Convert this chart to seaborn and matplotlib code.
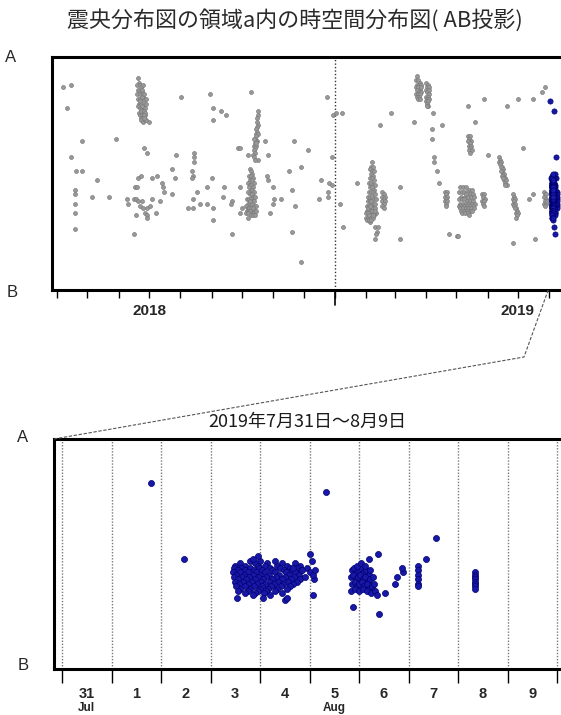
import numpy as np
import pandas as pd
import matplotlib
matplotlib.use("Agg")
import matplotlib.pyplot as plt
import matplotlib.dates as mdates
from matplotlib.lines import Line2D
from matplotlib.ticker import FixedLocator, FixedFormatter, NullFormatter
import seaborn as sns

# ---------------- text ----------------
TITLE = "震央分布図の領域a内の時空間分布図( AB投影)"
SUBTITLE = "2019年7月31日～8月9日"
END_LABELS = ["A", "B"]
YEAR_LABELS = ["2018", "2019"]
DAY_LABELS = ["31", "1", "2", "3", "4", "5", "6", "7", "8", "9"]
MONTH_LABELS = ["Jul", "Aug"]

# ---------------- data ----------------
# gray events: days from 2019-01-01, position along A-B (0 = A, 100 = B)
single_day = [-269, -261, -265, -250, -261, -256, -250, -257, -257, -257,
              -257, -257, -236, -240, -224, -217, -184, -189, -186, -195,
              -192, -198, -196, -199, -197, -206, -205, -195, -191, -193,
              -190, -186, -188, -186, -186, -183, -181, -181, -176, -177,
              -173, -171, -170, -169, -197, -199, -161, -158, -161, -157,
              -152, -140, -140, -140, -142, -141, -142, -137, -141, -145,
              -141, -124, -121, -113, -108, -121, -83, -96, -94, -86,
              -76, -66, -69, -67, -66, -61, -60, -61, -53, -64,
              -86, -94, -92, -94, -102, -103, -110, -111, -122, -127,
              -134, -127, -121, -121, -102, -41, -27, -46, -34, -43,
              -40, -43, -34, -8, -2, 1, -3, -14, -16, -7,
              -7, -6, -3, 5, 8, 7, 22, 45, 55, 35,
              40, 42, 43, 40, 41, 64, 64, 78, 81, 97,
              106, 96, 96, 98, 98, 101, 103, 113, 121, 132,
              147, 139, 151, 122, 170, 181, 196, 205, 208, 186,
              192, 196, 176, 198]
single_pos = [13, 12, 22, 36, 43, 49, 49, 57, 59, 63,
              67, 74, 53, 60, 60, 35, 28, 39, 41, 52,
              51, 56, 56, 61, 61, 61, 63, 62, 62, 64,
              65, 65, 67, 68, 69, 64, 61, 52, 51, 67,
              62, 54, 56, 58, 68, 76, 48, 52, 59, 42,
              17, 41, 43, 45, 49, 51, 52, 58, 61, 65,
              65, 16, 22, 23, 25, 27, 15, 39, 39, 42,
              44, 42, 36, 51, 53, 56, 61, 63, 61, 67,
              69, 67, 65, 56, 62, 63, 56, 60, 52, 56,
              63, 63, 65, 70, 76, 36, 40, 49, 47, 57,
              64, 75, 88, 17, 25, 24, 43, 53, 61, 60,
              58, 54, 55, 63, 73, 24, 54, 29, 24, 71,
              73, 75, 73, 78, 76, 56, 78, 28, 8, 24,
              29, 31, 35, 43, 45, 49, 54, 76, 77, 21,
              18, 28, 42, 77, 21, 18, 18, 15, 13, 39,
              61, 59, 80, 78]

swarm_day = [
    # June 2018 (upper)
    -195, -194, -196, -193, -195, -192, -194, -196, -193, -191,
    -195, -193, -190, -194, -192, -189, -195, -193, -191, -190,
    -194, -192, -188, -193, -191, -189, -192, -190, -188, -193,
    -191, -189, -187, -192, -190, -188, -191, -189, -187, -190,
    -188, -191, -189, -187, -189,
    # Oct 2018 streak
    -76, -76, -77, -77, -76, -77, -78, -77, -78, -76,
    -78, -79, -77, -78, -79, -80, -78, -79, -80, -79,
    -81, -80, -79, -78, -80,
    # Oct 2018 lower
    -84, -83, -82, -85, -83, -81, -84, -82, -80, -86,
    -84, -83, -81, -85, -83, -82, -80, -86, -84, -82,
    -81, -79, -87, -85, -83, -81, -80, -86, -84, -82,
    -80, -78, -88, -86, -85, -83, -81, -79, -87, -85,
    -84, -82, -80, -78, -88, -86, -83, -81, -79, -84,
    # Feb 2019
    37, 36, 38, 35, 37, 39, 36, 38, 35, 37,
    39, 34, 36, 38, 40, 35, 37, 39, 34, 36,
    38, 40, 33, 35, 37, 39, 41, 33, 35, 36,
    38, 40, 32, 34, 36, 38, 40, 32, 34, 35,
    37, 39, 41, 31, 33, 35, 37, 39, 31, 33,
    34, 36, 38, 40, 32, 34, 36, 38, 33, 35,
    47, 48, 47, 49, 48, 47, 49, 48, 47, 48,
    # Mar 2019 upper
    80, 82, 84, 81, 83, 85, 80, 82, 84, 81,
    83, 85, 80, 82, 84, 81, 83, 82, 85, 84,
    90, 92, 91, 93, 90, 92, 91, 93, 90, 92,
    91, 93, 90, 92, 91, 92, 93, 91,
    # Apr 2019
    109, 111, 110, 109, 111, 110, 109, 111, 110, 110,
    # May 2019
    132, 134, 133, 135, 132, 134, 133, 135, 134, 133, 136, 134,
    124, 127, 130, 133, 136, 123, 126, 128, 131, 134,
    137, 125, 129, 132, 135, 138, 123, 126, 128, 131,
    134, 137, 124, 127, 130, 133, 136, 139, 123, 125,
    128, 131, 134, 137, 124, 127, 130, 132, 135, 138,
    125, 128, 131, 134, 136, 126, 129, 132, 133, 130,
    145, 147, 146, 148, 145, 147, 146, 147,
    # June 2019
    162, 163, 162, 164, 163, 165, 164, 166, 165, 164,
    166, 167, 166, 165, 167, 168, 167, 169, 168, 170,
    168, 166,
    176, 177, 176, 178, 177, 176, 178, 177, 179, 178,
    180, 179, 181, 180, 179,
    # July 2019
    207, 208, 209, 207, 209, 208, 207, 209, 208, 210,
]
swarm_pos = [
    9, 11, 12, 12, 14, 13, 15, 16, 16, 15,
    18, 18, 17, 20, 20, 19, 21, 22, 22, 21,
    24, 23, 22, 25, 25, 24, 26, 26, 25, 19,
    17, 23, 20, 27, 28, 27, 14, 16, 18, 12,
    24, 21, 25, 27, 26,
    23, 25, 26, 28, 29, 30, 31, 32, 33, 33,
    34, 35, 36, 36, 37, 38, 38, 39, 40, 41,
    42, 43, 44, 37, 35,
    48, 49, 50, 51, 51, 52, 53, 53, 54, 54,
    55, 55, 56, 56, 57, 57, 58, 58, 59, 59,
    60, 60, 61, 61, 61, 62, 62, 63, 63, 63,
    64, 64, 64, 65, 65, 65, 65, 66, 66, 66,
    66, 67, 67, 66, 67, 67, 68, 68, 68, 62,
    45, 47, 47, 48, 49, 49, 50, 51, 52, 52,
    53, 54, 54, 55, 55, 56, 56, 57, 58, 58,
    58, 59, 60, 60, 60, 61, 61, 62, 62, 62,
    63, 63, 64, 64, 64, 65, 65, 66, 66, 66,
    66, 67, 67, 67, 67, 68, 68, 68, 69, 69,
    68, 69, 69, 66, 70, 70, 70, 68, 65, 64,
    58, 59, 60, 60, 61, 62, 62, 63, 64, 65,
    10, 10, 11, 12, 12, 12, 13, 13, 14, 14,
    15, 15, 16, 16, 16, 17, 17, 18, 13, 18,
    11, 12, 13, 13, 14, 15, 15, 16, 17, 17,
    18, 18, 19, 19, 20, 21, 14, 21,
    58, 58, 59, 60, 60, 61, 62, 62, 63, 64,
    34, 34, 35, 36, 36, 37, 38, 38, 39, 40, 40, 41,
    56, 56, 56, 57, 57, 58, 58, 58, 58, 59,
    59, 60, 60, 60, 60, 60, 61, 61, 61, 62,
    62, 62, 63, 63, 63, 63, 63, 63, 64, 64,
    64, 64, 64, 64, 65, 65, 65, 65, 65, 65,
    66, 66, 66, 66, 66, 67, 67, 67, 68, 59,
    59, 59, 60, 61, 62, 62, 63, 64,
    43, 44, 45, 45, 46, 47, 47, 48, 49, 49,
    50, 50, 51, 51, 52, 52, 53, 53, 54, 55,
    55, 52,
    59, 60, 61, 61, 62, 63, 63, 64, 65, 65,
    66, 67, 67, 68, 69,
    58, 59, 59, 60, 61, 62, 63, 63, 64, 62,
]

# blue events (2019-07-31 .. 08-09): days from 2019-07-31 00:00, position along A-B
blue_t = [
    1.80, 2.46, 5.33, 7.56, 7.35, 5.88, 6.40, 6.53, 6.38, 6.20, 5.07, 6.73, 6.89, 6.77, 6.87,
    7.19, 7.19, 7.19, 7.19, 7.19, 7.19,
    8.34, 8.34, 8.34, 8.34, 8.34, 8.34, 8.34, 8.34,
    5.85, 5.90, 5.95, 6.00, 6.05, 6.10, 6.15, 6.20, 5.83, 5.88,
    5.93, 5.98, 6.03, 6.08, 6.13, 6.18, 6.23, 6.28, 5.86, 5.91,
    5.96, 6.01, 6.06, 6.11, 6.16, 6.21, 6.26, 6.31, 5.84, 5.92,
    6.00, 6.08, 6.16, 6.24, 6.32, 6.36, 5.95, 6.05, 6.12, 6.22,
    3.80, 4.00, 4.30,
    3.60, 3.90, 4.15, 4.45, 4.70,
    3.50, 3.70, 3.95, 4.10, 4.35, 4.55, 4.80,
    3.48, 3.62, 3.80, 3.98, 4.20, 4.40, 4.60, 4.75,
    3.55, 3.70, 3.88, 4.05, 4.25, 4.48, 4.65, 4.82,
    3.46, 3.60, 3.75, 3.92, 4.10, 4.30, 4.52, 4.70,
    3.52, 3.68, 3.85, 4.00, 4.18, 4.38, 4.58, 4.78,
    3.47, 3.63, 3.78, 3.95, 4.12, 4.32, 4.50, 4.68,
    3.55, 3.72, 3.90, 4.06, 4.24, 4.44, 4.62, 4.80,
    3.50, 3.66, 3.83, 4.02, 4.20, 4.36, 4.56, 4.74,
    3.58, 3.75, 3.93, 4.10, 4.28, 4.47, 4.66,
    3.52, 3.70, 3.88, 4.05, 4.22, 4.42, 4.60,
    3.60, 3.80, 4.00, 4.16, 4.35, 4.55,
    3.55, 3.75, 3.96, 4.12, 4.30,
    3.70, 3.90, 4.08, 4.45,
    3.85, 4.20,
    3.53, 4.06, 4.50, 3.96, 3.86, 5.00, 5.05, 4.95, 5.10, 4.55,
    4.67, 4.85, 5.02, 5.08, 4.90, 5.12,
]
blue_pos = [
    19, 52, 23, 43, 52, 73, 76, 67, 50, 52, 68, 63, 58, 60, 56,
    55, 57, 59, 61, 63, 64,
    58, 59, 60, 61, 62, 63, 64, 65,
    57, 56, 58, 57, 56, 58, 57, 59, 60, 59,
    61, 60, 59, 61, 60, 62, 61, 60, 63, 62,
    64, 63, 62, 64, 63, 65, 64, 63, 66, 65,
    66, 65, 66, 67, 66, 68, 55, 54, 55, 57,
    53, 53, 53,
    54, 54, 54, 54, 54,
    55, 55, 55, 55, 55, 55, 55,
    56, 56, 56, 56, 56, 56, 56, 56,
    57, 57, 57, 57, 57, 57, 57, 57,
    58, 58, 58, 58, 58, 58, 58, 58,
    59, 59, 59, 59, 59, 59, 59, 59,
    60, 60, 60, 60, 60, 60, 60, 60,
    61, 61, 61, 61, 61, 61, 61, 61,
    62, 62, 62, 62, 62, 62, 62, 62,
    63, 63, 63, 63, 63, 63, 63,
    64, 64, 64, 64, 64, 64, 64,
    65, 65, 65, 65, 65, 65,
    66, 66, 66, 66, 66,
    67, 67, 67, 67,
    68, 68,
    69, 69, 70, 51, 52, 50, 53, 56, 61, 69,
    56, 57, 58, 59, 60, 57,
]

# ---------------- frames ----------------
YEAR0 = pd.Timestamp("2019-01-01")
DAY0 = pd.Timestamp("2019-07-31")

gray_df = pd.DataFrame({
    "date": YEAR0 + pd.to_timedelta(np.array(single_day + swarm_day, float), unit="D"),
    "pos": single_pos + swarm_pos,
})
blue_df = pd.DataFrame({
    "date": DAY0 + pd.to_timedelta(np.array(blue_t, float), unit="D"),
    "pos": blue_pos,
})

sns.set_style("white")
plt.rcParams["font.family"] = ["Liberation Sans", "Noto Sans CJK JP", "DejaVu Sans"]

W, H = 561, 715
fig = plt.figure(figsize=(W / 100, H / 100), dpi=100)


def frac(l, t, r, b):
    return [l / W, 1 - b / H, (r - l) / W, (b - t) / H]


ax1 = fig.add_axes(frac(52, 57, 585, 290))
ax2 = fig.add_axes(frac(54, 439, 585, 669))

GRAY_FC, GRAY_EC = "#999999", "#7c7c7c"
BLUE_FC, BLUE_EC = "#1818a8", "#00006e"

sns.scatterplot(data=gray_df, x="date", y="pos", ax=ax1, s=8, color=GRAY_FC,
                edgecolor=GRAY_EC, linewidth=0.5, zorder=3, legend=False)
sns.scatterplot(data=blue_df, x="date", y="pos", ax=ax1, s=14, color=BLUE_FC,
                edgecolor=BLUE_EC, linewidth=0.5, zorder=4, legend=False)
sns.scatterplot(data=blue_df, x="date", y="pos", ax=ax2, s=19, color=BLUE_FC,
                edgecolor=BLUE_EC, linewidth=0.5, zorder=4, legend=False)

PX_PER_DAY_TOP = 1.0105
x1_lo = YEAR0 + pd.Timedelta(days=(52 - 335) / PX_PER_DAY_TOP)
x1_hi = YEAR0 + pd.Timedelta(days=(585 - 335) / PX_PER_DAY_TOP)
ax1.set_xlim(mdates.date2num(x1_lo), mdates.date2num(x1_hi))
ax1.set_ylim(100, 0)

PX_PER_DAY_BOT = 49.5
x2_lo = DAY0 + pd.Timedelta(days=(54 - 62) / PX_PER_DAY_BOT)
x2_hi = DAY0 + pd.Timedelta(days=(585 - 62) / PX_PER_DAY_BOT)
ax2.set_xlim(mdates.date2num(x2_lo), mdates.date2num(x2_hi))
ax2.set_ylim(100, 0)

for ax in (ax1, ax2):
    ax.set_xlabel("")
    ax.set_ylabel("")
    ax.set_yticks([])
    ax.xaxis.remove_overlapping_locs = False
    for sp in ax.spines.values():
        sp.set_linewidth(2.2)
        sp.set_color("black")

# top panel ticks
months = pd.date_range("2018-04-01", "2019-08-01", freq="MS")
ax1.xaxis.set_major_locator(FixedLocator(mdates.date2num(months)))
ax1.xaxis.set_major_formatter(NullFormatter())
year_mid = [pd.Timestamp("2018-07-01"), pd.Timestamp("2019-07-01")]
ax1.xaxis.set_minor_locator(FixedLocator(mdates.date2num(year_mid)))
ax1.xaxis.set_minor_formatter(FixedFormatter(YEAR_LABELS))
ax1.tick_params(axis="x", which="major", bottom=True, length=6, width=1.0,
                direction="out", color="black")
ax1.tick_params(axis="x", which="minor", bottom=True, length=0, pad=10,
                labelsize=11, labelbottom=True)
for lab in ax1.xaxis.get_minorticklabels():
    lab.set_fontweight("bold")

jan1 = mdates.date2num(YEAR0)
ax1.axvline(jan1, color="#333333", lw=1.0, ls=(0, (1, 1.5)), zorder=2)
ax1.plot([jan1, jan1], [0, -0.065], transform=ax1.get_xaxis_transform(),
         color="black", lw=1.2, clip_on=False)

# bottom panel ticks
days = pd.date_range("2019-07-31", "2019-08-10", freq="D")
ax2.xaxis.set_major_locator(FixedLocator(mdates.date2num(days)))
ax2.xaxis.set_major_formatter(NullFormatter())
mids = days[:-1] + pd.Timedelta(hours=12)
ax2.xaxis.set_minor_locator(FixedLocator(mdates.date2num(mids)))
ax2.xaxis.set_minor_formatter(FixedFormatter(DAY_LABELS))
ax2.tick_params(axis="x", which="major", bottom=True, length=10, width=1.0,
                direction="out", color="black")
ax2.tick_params(axis="x", which="minor", bottom=True, length=0, pad=13,
                labelsize=10.5, labelbottom=True)
for lab in ax2.xaxis.get_minorticklabels():
    lab.set_fontweight("bold")
for d in days:
    ax2.axvline(mdates.date2num(d), color="#7a7a7a", lw=1.0, ls=(0, (1, 1.2)), zorder=1)

month_pos = [mids[0], mids[5]]
for m, lab in zip(month_pos, MONTH_LABELS):
    ax2.text(mdates.date2num(m), -0.17, lab, transform=ax2.get_xaxis_transform(),
             ha="center", va="center", fontsize=8.5, fontweight="bold")

# titles and end labels
fig.text(295 / W, 1 - 20 / H, TITLE, ha="center", va="center", fontsize=15.8,
         color="#2a2a2a", family=["Noto Sans CJK JP", "DejaVu Sans"])
fig.text(307 / W, 1 - 422 / H, SUBTITLE, ha="center", va="center", fontsize=13,
         color="#1a1a1a", family=["Noto Sans CJK JP", "DejaVu Sans"])
fig.text(11 / W, 1 - 58 / H, END_LABELS[0], ha="center", va="center", fontsize=12)
fig.text(12 / W, 1 - 293 / H, END_LABELS[1], ha="center", va="center", fontsize=12)
fig.text(23 / W, 1 - 437 / H, END_LABELS[0], ha="center", va="center", fontsize=12)
fig.text(23 / W, 1 - 665 / H, END_LABELS[1], ha="center", va="center", fontsize=12)

# connector from the top panel to the enlarged panel
inv = fig.transFigure.inverted()
p_top = inv.transform(ax1.transData.transform((mdates.date2num(DAY0), 100)))
p_mid = (524 / W, 1 - 357 / H)
p_end = inv.transform(ax2.transAxes.transform((0, 1)))
fig.add_artist(Line2D([p_top[0], p_mid[0], p_end[0]], [p_top[1], p_mid[1], p_end[1]],
                      transform=fig.transFigure, color="#555555", lw=0.8,
                      ls=(0, (3, 1.5))))

fig.savefig("out.png", dpi=100)
